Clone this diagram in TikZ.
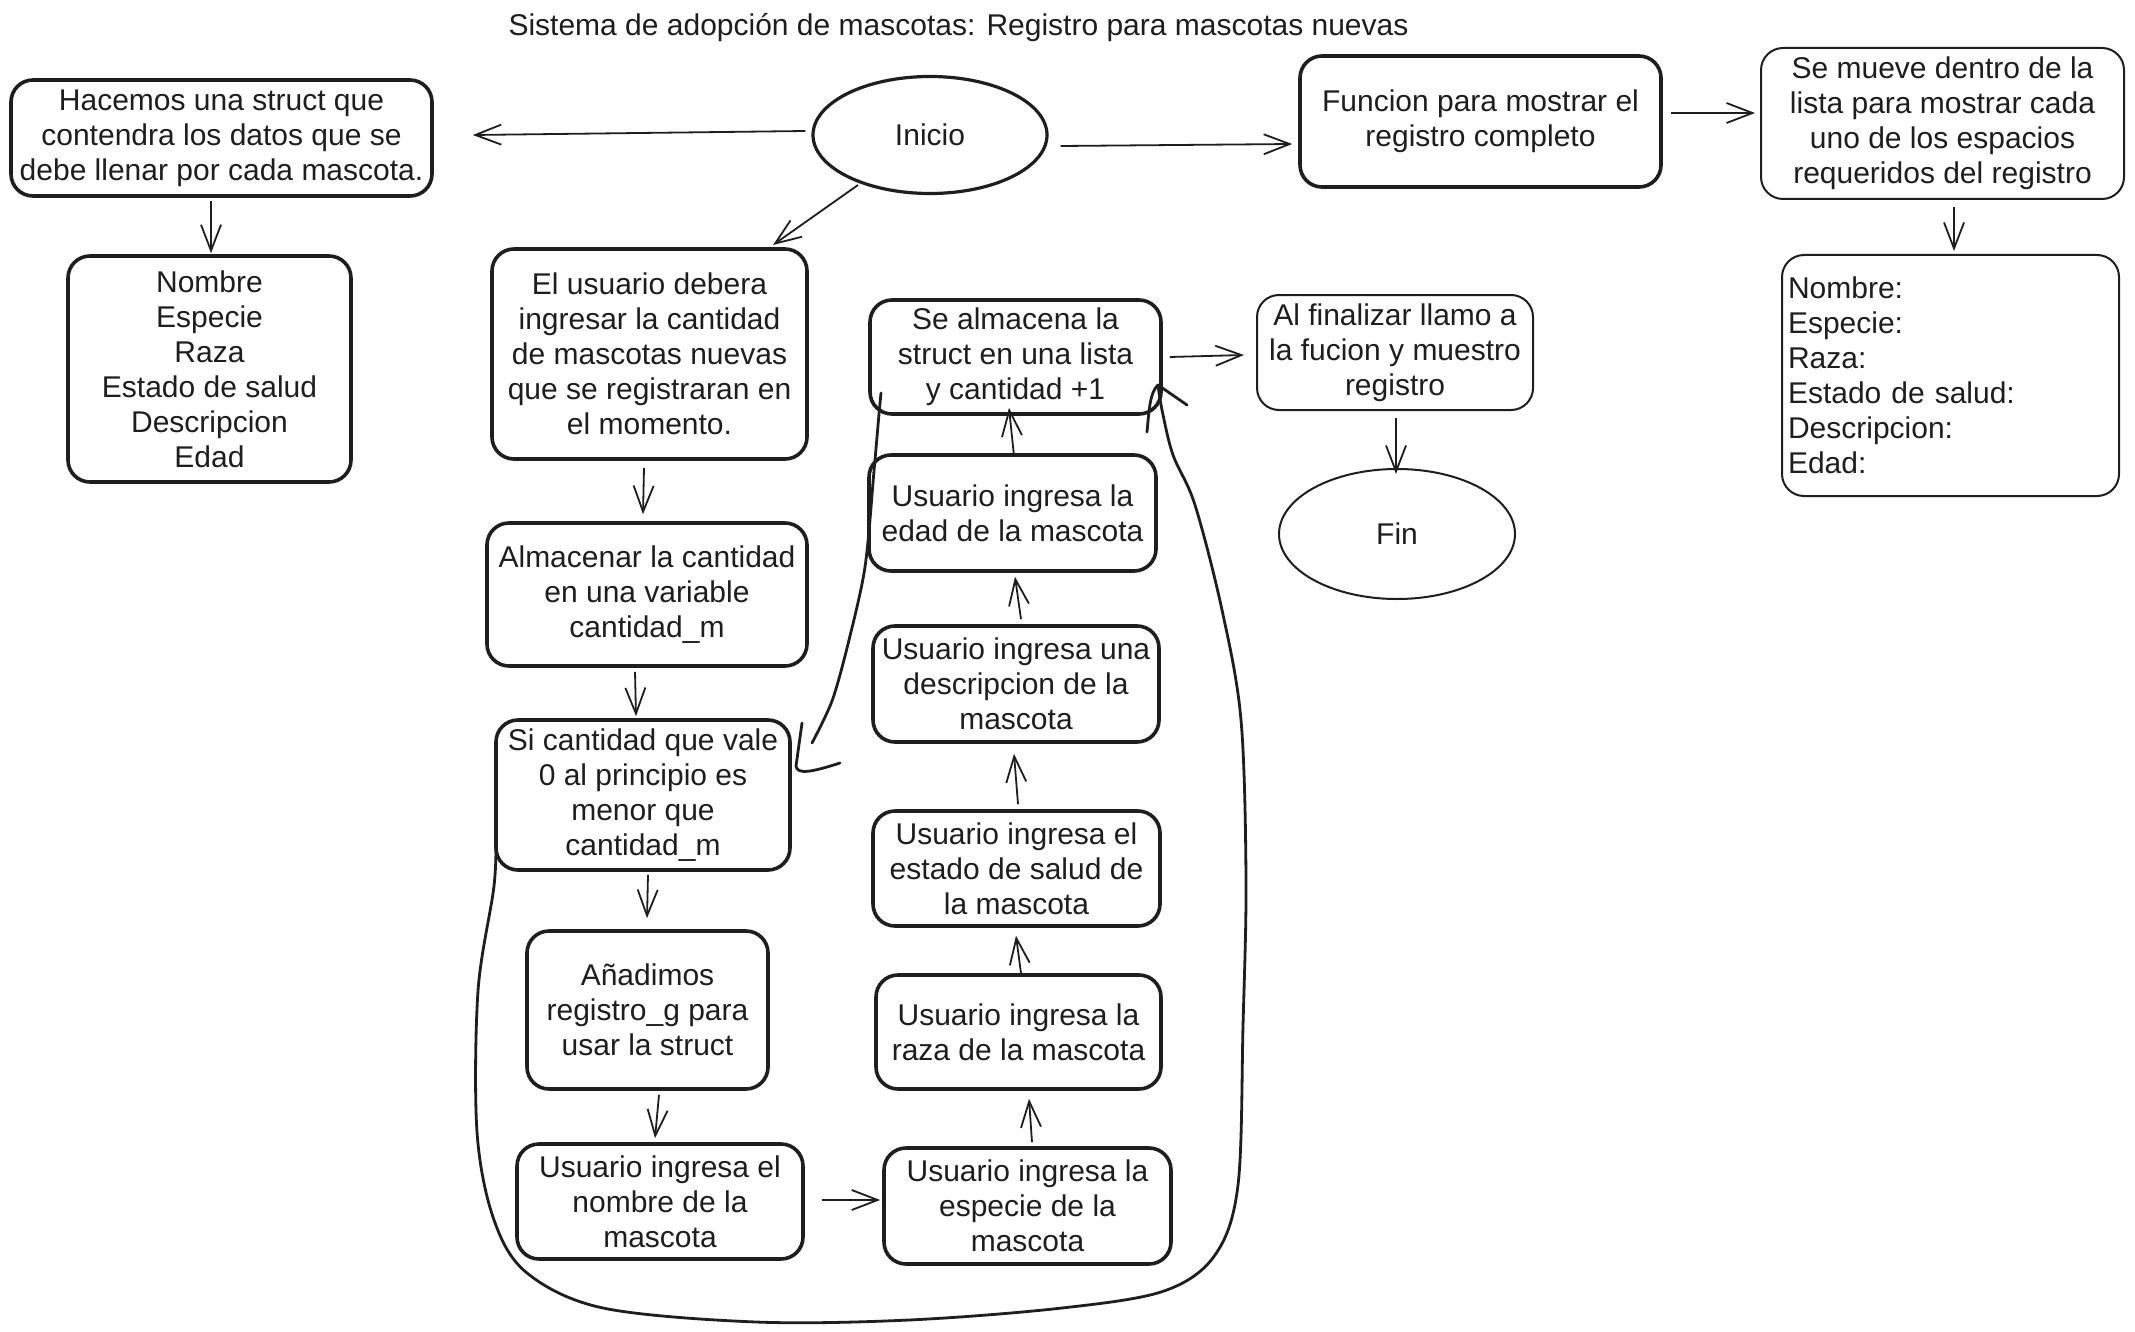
\documentclass[tikz,border=0pt]{standalone}
\usepackage{fontspec}
\setmainfont{Liberation Sans}
\usetikzlibrary{arrows.meta,shapes.geometric}
\definecolor{ink}{HTML}{1E1E1E}
\newcommand\myfs{\fontsize{15}{17.5}\selectfont}
\begin{document}
\begin{tikzpicture}[x=0.5pt,y=-0.5pt,
  sz/.style 2 args={minimum width=#1pt, minimum height=#2pt},
  thickbox/.style={draw=ink, line width=1.8pt, rounded corners=11pt, align=center, inner sep=0pt, text=ink, font=\myfs},
  thinbox/.style={thickbox, line width=1pt},
  oval/.style={draw=ink, ellipse, inner sep=0pt, text=ink, font=\myfs},
  arr/.style={draw=ink, line width=0.9pt, -{Straight Barb[length=13pt,width=10pt]}},
  loopline/.style={draw=ink, line width=1.4pt, line cap=round, line join=round}]
\fill[white] (0,0) rectangle (2135,1332);
\useasboundingbox (0,0) rectangle (2135,1332);

\node[font=\myfs, text=ink] (title) at (958.5,28) {Sistema de adopción de mascotas: Registro para mascotas nuevas};

\node[thickbox, sz={210.5}{58}] (A) at (221.5,138) {Hacemos una struct que\\contendra los datos que se\\debe llenar por cada mascota.};
\node[oval, line width=1.6pt, minimum width=117pt, minimum height=58.5pt] (inicio) at (930,135) {Inicio};
\node[thickbox, sz={180.5}{65.5}] (funcion) at (1480.5,121.5) {Funcion para mostrar el\\registro completo};
\node[thinbox, sz={181.5}{75.5}] (mueve) at (1942.5,123.5) {Se mueve dentro de la\\lista para mostrar cada\\uno de los espacios\\requeridos del registro};
\node[thickbox, sz={141.5}{113}] (campos) at (209.5,369) {Nombre\\Especie\\Raza\\Estado de salud\\Descripcion\\Edad};
\node[thinbox, sz={168.5}{120.5}, align=left, text width=162.5pt, inner xsep=3pt] (registro) at (1950.5,375.5) {Nombre:\\Especie:\\Raza:\\Estado de salud:\\Descripcion:\\Edad:};

\node[thickbox, sz={157.5}{105}] (user) at (649.5,354) {El usuario debera\\ingresar la cantidad\\de mascotas nuevas\\que se registraran en\\el momento.};
\node[thickbox, sz={160}{71.5}] (almacenar) at (647,594.5) {Almacenar la cantidad\\en una variable\\cantidad\_m};
\node[thickbox, sz={147}{75}] (si) at (643,795) {Si cantidad que vale\\0 al principio es\\menor que\\cantidad\_m};
\node[thickbox, sz={120.5}{79}] (anad) at (647.5,1010) {Añadimos\\registro\_g para\\usar la struct};
\node[thickbox, sz={143}{57.5}] (nom) at (660,1201.5) {Usuario ingresa el\\nombre de la\\mascota};
\node[thickbox, sz={143.5}{58}] (esp) at (1027.5,1206) {Usuario ingresa la\\especie de la\\mascota};
\node[thickbox, sz={142.5}{57}] (raza) at (1018.5,1032) {Usuario ingresa la\\raza de la mascota};
\node[thickbox, sz={143.5}{57.5}] (estado) at (1016.5,868.5) {Usuario ingresa el\\estado de salud de\\la mascota};
\node[thickbox, sz={143}{58}] (descr) at (1016,684) {Usuario ingresa una\\descripcion de la\\mascota};
\node[thickbox, sz={143.5}{58}] (edad) at (1012.5,513) {Usuario ingresa la\\edad de la mascota};
\node[thickbox, sz={145.5}{57}] (alm) at (1015.5,357) {Se almacena la\\struct en una lista\\y cantidad +1};
\node[thinbox, sz={138}{57.5}] (final) at (1395,352.5) {Al finalizar llamo a\\la fucion y muestro\\registro};
\node[oval, line width=1pt, minimum width=118pt, minimum height=65pt] (fin) at (1397,534) {Fin};

% arrows
\draw[arr] ([shift={(-6,-4)}]inicio.west) -- ([shift={(39,-3)}]A.east);
\draw[arr] ([shift={(12,11)}]inicio.east) -- ([shift={(-6,22.5)}]funcion.west);
\draw[arr] ([shift={(8,-8.5)}]funcion.east) -- ([shift={(-5,-10.5)}]mueve.west);
\draw[arr] ([shift={(11.5,7)}]mueve.south) -- ([shift={(3.5,-3)}]registro.north);
\draw[arr] ([shift={(-10.5,3)}]A.south) -- ([shift={(1.5,-1)}]campos.north);
\draw[arr] ([shift={(-72,50)}]inicio.center) -- ([shift={(123.5,-109)}]user.center);
\draw[arr] ([shift={(-5.5,7)}]user.south) -- ([shift={(-4,-7)}]almacenar.north);
\draw[arr] ([shift={(-12,4)}]almacenar.south) -- ([shift={(-7,-2)}]si.north);
\draw[arr] ([shift={(5,3)}]si.south) -- ([shift={(-0.5,-11)}]anad.north);
\draw[arr] ([shift={(11.5,4)}]anad.south) -- ([shift={(-5,-4)}]nom.north);
\draw[arr] ([shift={(17,-1.5)}]nom.east) -- ([shift={(-2,-6)}]esp.west);
\draw[arr] ([shift={(4.5,-4)}]esp.north) -- ([shift={(10.5,8)}]raza.south);
\draw[arr] ([shift={(2.5,0)}]raza.north) -- ([shift={(-0.5,8)}]estado.south);
\draw[arr] ([shift={(1.5,-5)}]estado.north) -- ([shift={(-2,10)}]descr.south);
\draw[arr] ([shift={(5,-5)}]descr.north) -- ([shift={(2.5,4)}]edad.south);
\draw[arr] ([shift={(1.5,3)}]edad.north) -- ([shift={(-6.5,-8)}]alm.south);
\draw[arr] ([shift={(7,0)}]alm.east) -- ([shift={(-12,2.5)}]final.west);
\draw[arr] ([shift={(1,7)}]final.south) -- ([shift={(-1,6)}]fin.north);

% freehand loop
\draw[loopline] plot[smooth, tension=0.55] coordinates {(496,832) (494,886) (478,991) (477,1132) (494,1220) (527,1273) (603,1308) (756,1322) (909,1320) (1062,1308) (1164,1291) (1215,1255) (1238,1185) (1243,1026) (1246,880) (1241,720) (1222,610) (1195,505) (1173,455) (1162,410) (1158,385)};
\draw[loopline] (1158,385) -- (1187,405);
\draw[loopline] (1158,385) .. controls (1150,392) and (1149,410) .. (1147,432);
\draw[loopline] plot[smooth] coordinates {(881,393) (879,414) (874,471) (865,567) (848,644) (832,701) (812,743)};
\draw[loopline] (802,723) -- (796,766) .. controls (797,775) and (812,772) .. (840,763);
\end{tikzpicture}
\end{document}
